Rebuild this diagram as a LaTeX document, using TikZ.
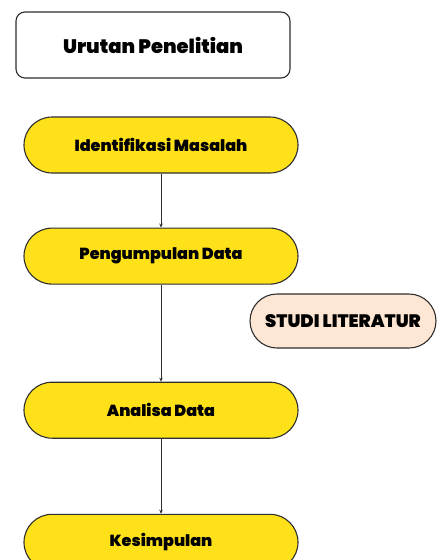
\documentclass[tikz,border=0pt]{standalone}
\usepackage{fontspec}
\setmainfont{Poppins}
\newfontfamily\tebal{Poppins Black}
\usetikzlibrary{positioning, arrows.meta}

\definecolor{kuning}{HTML}{FFE11A}
\definecolor{krem}{HTML}{FDE6D3}
\definecolor{garis}{HTML}{2E2E2E}

\begin{document}
\begin{tikzpicture}[
    x=1pt, y=1pt,
    box/.style={draw=garis, line width=1.1pt, minimum width=274pt, minimum height=56pt, align=center, font=\tebal\fontsize{16}{18}\selectfont},
    judul/.style={box, rounded corners=9pt, fill=white, minimum height=66pt, font=\tebal\fontsize{19.5}{21}\selectfont},
    tahap/.style={box, rounded corners=28pt, fill=kuning},
    sumber/.style={box, rounded corners=27pt, fill=krem, minimum width=186pt, minimum height=54pt, inner sep=1pt, font=\tebal\fontsize{18}{20}\selectfont},
    arrow/.style={-{Stealth[length=4pt, width=3.5pt]}, line width=0.9pt, draw=garis}
  ]

  \useasboundingbox (0,0) rectangle (437,-560);
  \clip (0,0) rectangle (437,-560);

  % judul
  \node[judul] (urutan) at (153,-45) {Urutan Penelitian};

  % tahapan penelitian
  \node[tahap] (identifikasi) at (161,-145) {Identifikasi Masalah};
  \node[tahap, below=54pt of identifikasi] (pengumpulan) {Pengumpulan Data};
  \node[tahap, below=97pt of pengumpulan] (analisa) {Analisa Data};
  \node[tahap, below=75pt of analisa] (kesimpulan) {Kesimpulan};

  % sumber pendukung
  \node[sumber] (studi) at (343,-321) {STUDI LITERATUR};

  % alur
  \draw[arrow] (identifikasi) -- (pengumpulan);
  \draw[arrow] (pengumpulan) -- (analisa);
  \draw[arrow] (analisa) -- (kesimpulan);

\end{tikzpicture}
\end{document}
